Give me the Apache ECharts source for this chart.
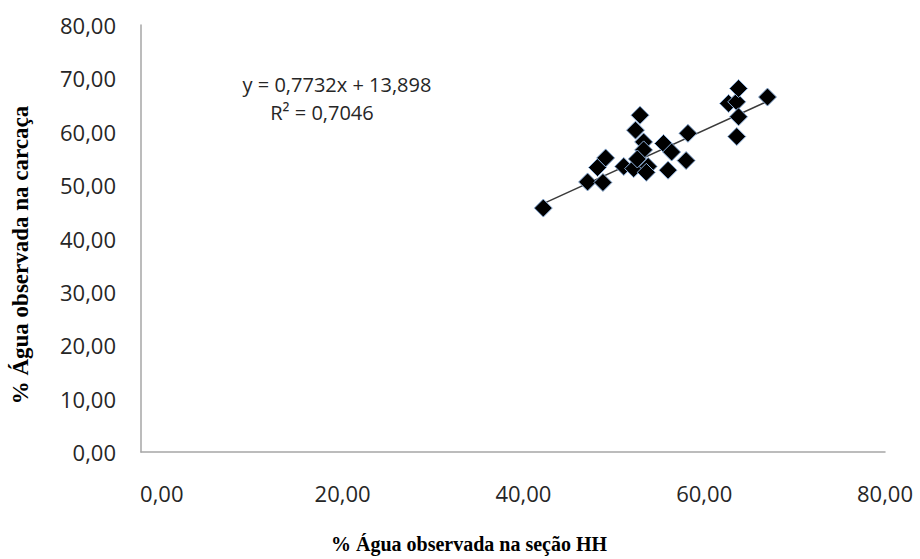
<!DOCTYPE html>
<html><head><meta charset="utf-8">
<script src="https://cdn.jsdelivr.net/npm/echarts@6/dist/echarts.min.js"></script>
<style>html,body{margin:0;padding:0;background:#fff}#c{width:920px;height:559px}</style>
</head><body><div id="c"></div>
<script>
// % water observed in HH section (x) vs % water observed in carcass (y)
const xValues = [42.2, 47.1, 48.8, 48.2, 49.1, 51.1, 52.2, 52.4, 52.9, 53.3, 53.3, 53.8, 55.5, 56.4, 56.0, 58.2, 58.0, 62.7, 63.6, 63.8, 63.8, 63.6, 67.0, 52.6, 53.6];
const yValues = [45.7, 50.6, 50.5, 53.3, 55.1, 53.5, 53.1, 60.3, 63.1, 58.1, 56.6, 53.5, 57.8, 56.2, 52.8, 59.7, 54.6, 65.3, 65.6, 68.1, 62.8, 59.1, 66.5, 54.9, 52.4];
const xTicks = [0, 20, 40, 60, 80];
const yTicks = [0, 10, 20, 30, 40, 50, 60, 70, 80];
const slope = 0.7732, intercept = 13.898;
const eqText = 'y = 0,7732x + 13,898';
const r2Text = 'R² = 0,7046';
const xTitle = '% Água observada na seção HH';
const yTitle = '% Água observada na carcaça';

const pts = xValues.map((x, i) => [x, yValues[i]]);
const xMin = Math.min(...xValues), xMax = Math.max(...xValues);
const trend = [[xMin, slope * xMin + intercept], [xMax, slope * xMax + intercept]];
const fmt = v => v.toFixed(2).replace('.', ',');

const chart = echarts.init(document.getElementById('c'), null, {renderer: 'svg'});
chart.setOption({
  animation: false,
  backgroundColor: '#fff',
  grid: {left: 141, right: 35, top: 25, bottom: 107},
  xAxis: {
    type: 'value', min: -2.3, max: 80,
    axisLine: {show: true, onZero: false, lineStyle: {color: '#a6a6a6', width: 1.5}},
    axisTick: {show: false},
    splitLine: {show: false},
    axisLabel: {customValues: xTicks, formatter: fmt, margin: 30,
      fontFamily: 'Open Sans', fontSize: 22, color: '#262626'}
  },
  yAxis: {
    type: 'value', min: 0, max: 80, interval: 10,
    axisLine: {show: true, onZero: false, lineStyle: {color: '#a6a6a6', width: 1.5}},
    axisTick: {show: false},
    splitLine: {show: false},
    axisLabel: {customValues: yTicks, formatter: fmt, margin: 25,
      fontFamily: 'Open Sans', fontSize: 22, color: '#262626'}
  },
  series: [
    {type: 'line', data: trend, symbol: 'none', silent: true,
     lineStyle: {color: '#3a3a3a', width: 1.5}, z: 1},
    {type: 'scatter', data: pts, symbol: 'diamond', symbolSize: 18,
     itemStyle: {color: '#000', opacity: 1, borderColor: '#8eb1dc', borderWidth: 1}, z: 2}
  ],
  graphic: [
    {type: 'text', style: {text: eqText, fontFamily: 'Open Sans', fontSize: 20, fill: '#262626', align: 'center', verticalAlign: 'middle'}, position: [337, 84]},
    {type: 'text', style: {text: r2Text, fontFamily: 'Open Sans', fontSize: 20, fill: '#262626', align: 'center', verticalAlign: 'middle'}, position: [322, 112]},
    {type: 'text', style: {text: xTitle, fontFamily: 'Liberation Serif', fontWeight: 'bold', fontSize: 20, fill: '#000', align: 'center', verticalAlign: 'middle'}, position: [469, 544]},
    {type: 'text', style: {text: yTitle, fontFamily: 'Liberation Serif', fontWeight: 'bold', fontSize: 23, fill: '#000', align: 'center', verticalAlign: 'middle'}, position: [20, 255], rotation: Math.PI / 2}
  ]
});
</script></body></html>
